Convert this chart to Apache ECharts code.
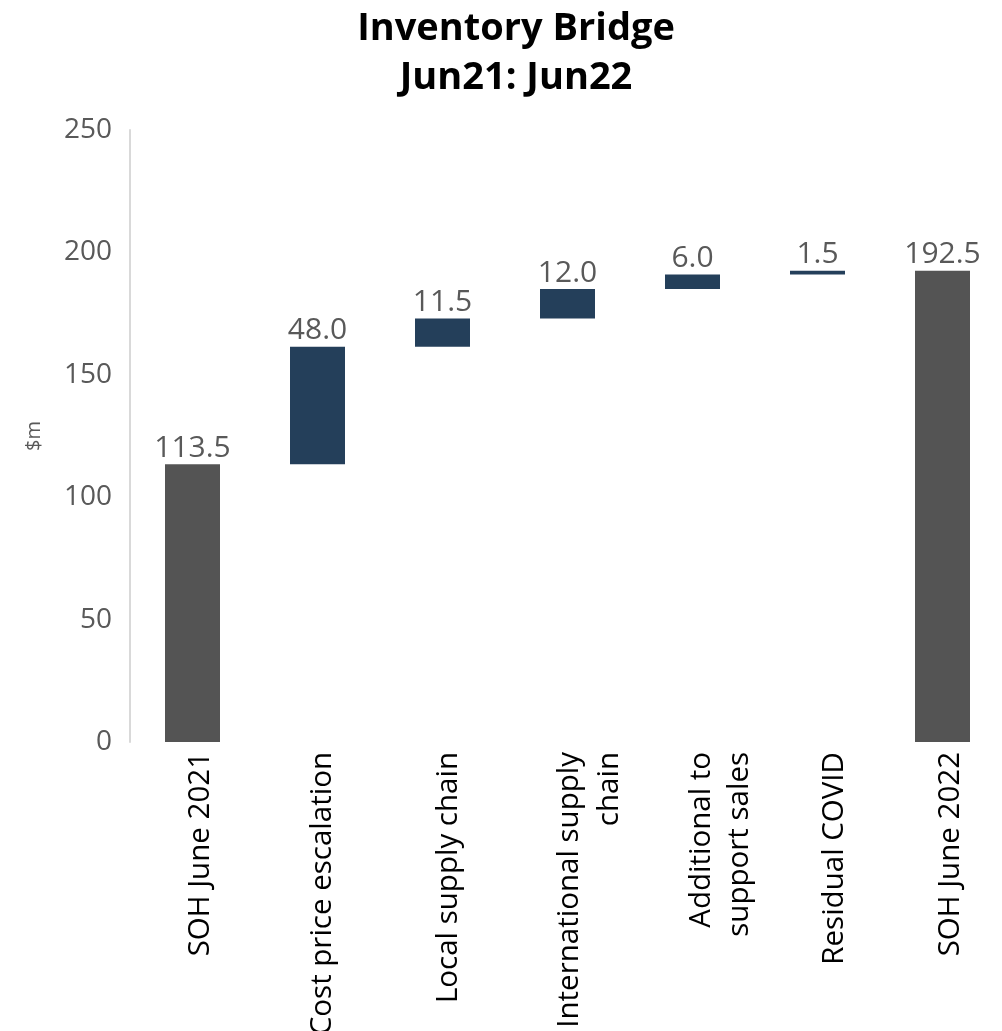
<!DOCTYPE html>
<html>
<head>
<meta charset="utf-8">
<script src="https://cdn.jsdelivr.net/npm/echarts@6/dist/echarts.min.js"></script>
<style>
html,body{margin:0;padding:0;background:#fff;}
#chart{width:1002px;height:1031px;}
</style>
</head>
<body>
<div id="chart"></div>
<script>
var categories = ['SOH June 2021', 'Cost price escalation', 'Local supply chain', 'International supply\nchain', 'Additional to\nsupport sales', 'Residual COVID', 'SOH June 2022'];
var values = [113.5, 48.0, 11.5, 12.0, 6.0, 1.5, 192.5];
var isTotal = [true, false, false, false, false, false, true];
var yTicks = [0, 50, 100, 150, 200, 250];

var bases = [];
var running = 0;
for (var i = 0; i < values.length; i++) {
  if (isTotal[i]) { bases.push(0); running = values[i]; }
  else { bases.push(running); running += values[i]; }
}

// layout only: first-line box height per label and following-line height,
// so the rotated labels sit beside their ticks as in the original
var firstLineH = [17, 11, 13, 4, 18, 34, 16];
var nextLineH = [0, 0, 0, 76, 59, 0, 0];
var rich = {};
firstLineH.forEach(function (h, i) {
  rich['f' + i] = { lineHeight: h, align: 'right' };
  rich['n' + i] = { lineHeight: nextLineH[i] || 40, align: 'right' };
});

var FONT = '"Open Sans", "Noto Sans", sans-serif';
var chart = echarts.init(document.getElementById('chart'));
chart.setOption({
  animation: false,
  title: {
    text: 'Inventory Bridge\nJun21: Jun22',
    left: 511, top: 0, textAlign: 'center',
    textStyle: { fontFamily: FONT, fontSize: 38, fontWeight: 'bold', color: '#000', lineHeight: 49 }
  },
  grid: { left: 130, top: 130, width: 875, bottom: 289, containLabel: false, outerBoundsMode: 'none' },
  xAxis: {
    type: 'category', data: categories,
    axisLine: { show: false }, axisTick: { show: false },
    axisLabel: {
      rotate: 90, interval: 0, margin: 10, color: '#000', fontFamily: FONT, fontSize: 29.5,
      align: 'right', verticalAlign: 'top', rich: rich,
      formatter: function (v, idx) {
        var lines = v.split('\n');
        return lines.map(function (l, k) { return '{' + (k === 0 ? 'f' : 'n') + idx + '|' + l + '}'; }).join('\n');
      }
    }
  },
  yAxis: {
    type: 'value', min: yTicks[0], max: yTicks[yTicks.length - 1], interval: 50,
    name: '$m', nameLocation: 'middle', nameGap: 86,
    nameTextStyle: { color: '#595959', fontFamily: FONT, fontSize: 20 },
    axisLine: { show: true, lineStyle: { color: '#d9d9d9', width: 2 } },
    axisTick: { show: false }, splitLine: { show: false },
    axisLabel: { color: '#595959', fontFamily: FONT, fontSize: 28, margin: 18 }
  },
  series: [
    { type: 'bar', stack: 'w', data: bases, barWidth: 55, itemStyle: { color: 'transparent' }, silent: true },
    {
      type: 'bar', stack: 'w', barWidth: 55,
      data: values.map(function (v, i) { return { value: v, itemStyle: { color: isTotal[i] ? '#545454' : '#243F5A' } }; }),
      label: {
        show: true, position: 'top', distance: 1, color: '#595959', fontFamily: FONT, fontSize: 30,
        formatter: function (p) { return p.value.toFixed(1); }
      }
    }
  ]
});
</script>
</body>
</html>
